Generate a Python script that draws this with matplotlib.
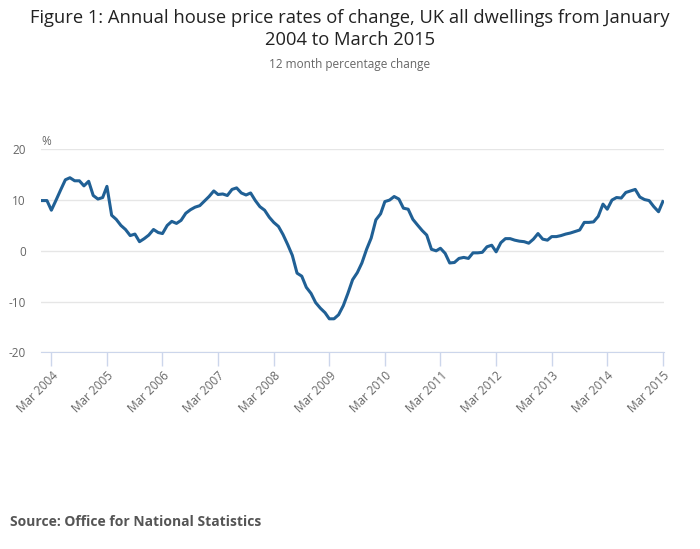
import matplotlib
matplotlib.use("Agg")
import matplotlib.pyplot as plt
import numpy as np
import pandas as pd

# monthly annual % change, Jan 2004 - Mar 2015
rates = [
    9.9, 9.9, 8.0, 10.0, 12.0, 14.0, 14.4, 13.8, 13.8, 12.8, 13.7, 10.9,   # 2004
    10.2, 10.5, 12.7, 7.0, 6.2, 5.0, 4.2, 3.0, 3.3, 1.8, 2.4, 3.1,         # 2005
    4.2, 3.6, 3.4, 5.0, 5.8, 5.4, 6.0, 7.4, 8.1, 8.6, 8.9, 9.8,            # 2006
    10.7, 11.8, 11.1, 11.2, 10.9, 12.1, 12.4, 11.4, 11.0, 11.4, 9.9, 8.7,  # 2007
    8.0, 6.6, 5.6, 4.8, 3.2, 1.2, -0.9, -4.4, -5.0, -7.2, -8.4, -10.2,     # 2008
    -11.3, -12.2, -13.4, -13.4, -12.6, -10.8, -8.4, -5.7, -4.3, -2.4, 0.3, 2.5,  # 2009
    6.1, 7.3, 9.7, 10.0, 10.7, 10.2, 8.4, 8.2, 6.2, 5.1, 4.0, 3.1,         # 2010
    0.3, 0.0, 0.5, -0.5, -2.4, -2.3, -1.5, -1.3, -1.5, -0.4, -0.4, -0.3,   # 2011
    0.8, 1.1, -0.2, 1.6, 2.4, 2.4, 2.1, 1.9, 1.8, 1.5, 2.3, 3.4,           # 2012
    2.3, 2.1, 2.8, 2.8, 3.0, 3.3, 3.5, 3.8, 4.1, 5.6, 5.6, 5.7,            # 2013
    6.8, 9.2, 8.2, 10.0, 10.5, 10.4, 11.5, 11.8, 12.1, 10.6, 10.1, 9.9,    # 2014
    8.7, 7.7, 9.7,                                                          # 2015
]
months = pd.date_range("2004-01-01", periods=len(rates), freq="MS")
tick_dates = pd.date_range("2004-03-01", "2015-03-01", freq="12MS")
tick_labels = ["Mar %d" % d.year for d in tick_dates]
y_ticks = [-20, -10, 0, 10, 20]

plt.rcParams['font.family'] = ['Open Sans', 'DejaVu Sans']

fig = plt.figure(figsize=(7, 5.49), dpi=100)
ax = fig.add_axes([0.0586, 0.3583, 0.89, 0.3697])

ax.plot(months, rates, color="#206095", lw=2.2, solid_joinstyle="round")

ax.set_ylim(-20, 20)
ax.set_xlim(months[0] - pd.Timedelta(days=8), months[-1] + pd.Timedelta(days=8))
ax.set_yticks(y_ticks)
ax.set_yticklabels([str(v) for v in y_ticks])
ax.set_xticks(tick_dates)
ax.set_xticklabels(tick_labels, rotation=45, ha="right", rotation_mode="anchor")

ax.grid(axis="y", color="#e6e6e6", lw=1)
ax.set_axisbelow(True)
for s in ["top", "right", "left"]:
    ax.spines[s].set_visible(False)
ax.spines["bottom"].set_color("#ccd6eb")
ax.tick_params(axis="y", length=0, pad=11, labelsize=8.5, labelcolor="#666666")
ax.tick_params(axis="x", length=10, width=1, color="#ccd6eb", pad=2,
               labelsize=8.5, labelcolor="#666666")

ax.text(0.0, 1.005, "%", transform=ax.transAxes, fontsize=8.5, color="#666666",
        ha="left", va="bottom")

fig.text(0.5, 0.983, "Figure 1: Annual house price rates of change, UK all dwellings from January\n2004 to March 2015",
         ha="center", va="top", fontsize=13.2, color="#222222", linespacing=1.25)
fig.text(0.5, 0.883, "12 month percentage change", ha="center", va="center",
         fontsize=8.5, color="#666666")
fig.text(0.014, 0.05, "Source: Office for National Statistics", ha="left", va="center",
         fontsize=10, fontweight="bold", color="#555555")

fig.savefig("out.png", dpi=100)
